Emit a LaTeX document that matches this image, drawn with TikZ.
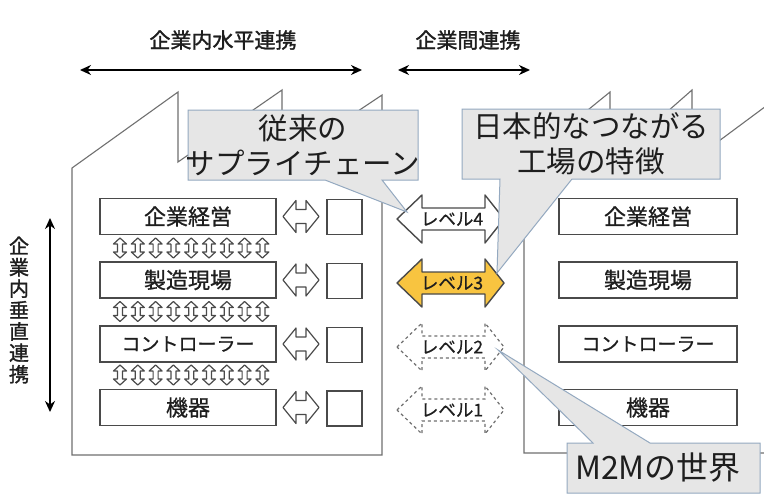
\documentclass[tikz,border=0pt]{standalone}
\usepackage{fontspec}
\setmainfont{Noto Sans CJK JP}
\newfontfamily\heavyjp{Noto Sans CJK JP}[FakeBold=1.5]
\newfontfamily\midjp{Noto Sans CJK JP}[FakeBold=0.8]
\usetikzlibrary{arrows.meta}
\definecolor{facgray}{HTML}{707070}
\definecolor{boxgray}{HTML}{4A4A4A}
\definecolor{callfill}{HTML}{E6E6E6}
\definecolor{calldraw}{HTML}{94A9C0}
\definecolor{lvyellow}{HTML}{F8C440}
\definecolor{txt}{HTML}{1E1E1E}
\newcommand\lvarrow[2]{%
  \draw[#2] (397,#1) -- (422,#1-24) -- (422,#1-11) -- (485,#1-11) -- (485,#1-24) -- (504,#1)
    -- (485,#1+24) -- (485,#1+11) -- (422,#1+11) -- (422,#1+24) -- cycle;}
\newcommand\vsmallarr[2]{%
  \draw[smallarr] (#1,#2-10) -- (#1+6.5,#2-4) -- (#1+2.5,#2-4) -- (#1+2.5,#2+4) -- (#1+6.5,#2+4)
    -- (#1,#2+10) -- (#1-6.5,#2+4) -- (#1-2.5,#2+4) -- (#1-2.5,#2-4) -- (#1-6.5,#2-4) -- cycle;}
\newcommand\hsmallarr[1]{%
  \draw[smallarr] (283,#1) -- (296,#1-16) -- (296,#1-7) -- (306,#1-7) -- (306,#1-16) -- (319,#1)
    -- (306,#1+16) -- (306,#1+7) -- (296,#1+7) -- (296,#1+16) -- cycle;}
\begin{document}
\begin{tikzpicture}[x=1pt,y=-1pt,
  fac/.style={draw=facgray, line width=1.1pt},
  rowbox/.style={draw=boxgray, line width=1.3pt, fill=white, minimum width=176pt,
    minimum height=36pt, inner sep=0pt, text=txt, font=\midjp\fontsize{22}{26}\selectfont},
  sqbox/.style={draw=boxgray, line width=1.2pt, fill=white, minimum size=35pt, inner sep=0pt},
  smallarr/.style={draw=boxgray, line width=1.2pt, fill=white, line join=round},
  toparr/.style={{Stealth[length=11pt,width=10pt]}-{Stealth[length=11pt,width=10pt]}, line width=2.6pt, black},
  toplabel/.style={text=txt, font=\heavyjp\fontsize{21}{25}\selectfont},
  lvtext/.style={text=txt, font=\midjp\fontsize{17.5}{20}\selectfont, inner sep=0pt},
  callout/.style={draw=calldraw, fill=callfill, line width=1pt},
  calltext/.style={text=txt, align=center, font=\fontsize{29.5}{35}\selectfont},
]
\useasboundingbox (0,0) rectangle (764,498);
\clip (0,0) rectangle (764,498);
\fill[white] (0,0) rectangle (764,498);

% top labels and arrows
\node[toplabel] (lhoriz) at (223,40) {企業内水平連携};
\node[toplabel] (lbetween) at (468,40) {企業間連携};
\coordinate (h1l) at (80,70);
\coordinate (h1r) at (362,70);
\coordinate (h2l) at (398,70);
\coordinate (h2r) at (530,70);
\draw[toparr] (h1l) -- (h1r);
\draw[toparr] (h2l) -- (h2r);

% vertical label and arrow
\node[toplabel, align=center, font=\heavyjp\fontsize{20}{21.4}\selectfont] (lvert) at (19,310) {企\\業\\内\\垂\\直\\連\\携};
\coordinate (v1t) at (50,218);
\coordinate (v1b) at (50,412);
\draw[toparr, line width=2.3pt] (v1t) -- (v1b);

% factories
\draw[fac] (72,455) -- (72,168) -- (178,92) -- (178,162) -- (282,90) -- (282,162) -- (382,95) -- (382,455) -- cycle;
\draw[fac] (820,453) -- (524,453) -- (524,162) -- (610,92) -- (610,162) -- (692,90) -- (692,161) -- (820,66);

% left rows
\node[rowbox] (l1) at (188,216.5) {企業経営};
\node[rowbox] (l2) at (188,280) {製造現場};
\node[rowbox, font=\midjp\fontsize{19}{23}\selectfont] (l3) at (188,344) {コントローラー};
\node[rowbox] (l4) at (188,407.5) {機器};
\foreach \r in {248,311.5,375}{
  \foreach \i in {0,...,8}{
    \pgfmathsetmacro\xx{120+\i*17.8}
    \vsmallarr{\xx}{\r}
  }
}
\foreach \r in {216.5,280,344,407.5}{\hsmallarr{\r}}
\node[sqbox] (s1) at (344.5,217) {};
\node[sqbox] (s2) at (344.5,281) {};
\node[sqbox] (s3) at (344.5,345) {};
\node[sqbox] (s4) at (344.5,408.5) {};

% right rows
\node[rowbox, minimum width=178pt] (r1) at (648,216.5) {企業経営};
\node[rowbox, minimum width=178pt] (r2) at (648,280) {製造現場};
\node[rowbox, minimum width=178pt, font=\midjp\fontsize{19}{23}\selectfont] (r3) at (648,344) {コントローラー};
\node[rowbox, minimum width=178pt] (r4) at (648,407.5) {機器};

% level arrows
\lvarrow{219}{draw=boxgray, line width=1.4pt, fill=white, line join=round}
\lvarrow{283}{draw=boxgray, line width=1.4pt, fill=lvyellow, line join=round}
\lvarrow{347}{draw=facgray, line width=1.2pt, dashed, fill=white}
\lvarrow{410}{draw=facgray, line width=1.2pt, dashed, fill=white}
\node[lvtext] (lv4) at (452,219) {レベル4};
\node[lvtext] (lv3) at (452,283) {レベル3};
\node[lvtext] (lv2) at (452,347) {レベル2};
\node[lvtext] (lv1) at (452,410) {レベル1};

% callouts
\draw[callout] (188,110) -- (418,110) -- (418,180) -- (382,180) -- (407,212) -- (325,180) -- (188,180) -- cycle;
\node[calltext] (c1) at (303,145) {従来の\\サプライチェーン};
\draw[callout] (462,109) -- (720,109) -- (720,179) -- (572,179) -- (497,273) -- (500,179) -- (462,179) -- cycle;
\node[calltext] (c2) at (591,144) {日本的なつながる\\工場の特徴};
\draw[callout] (567,443) -- (593,443) -- (498,350) -- (650,443) -- (760,443) -- (760,493) -- (567,493) -- cycle;
\node[calltext, font=\fontsize{32}{36}\selectfont] (c3) at (658,468) {M2Mの世界};
\end{tikzpicture}
\end{document}
